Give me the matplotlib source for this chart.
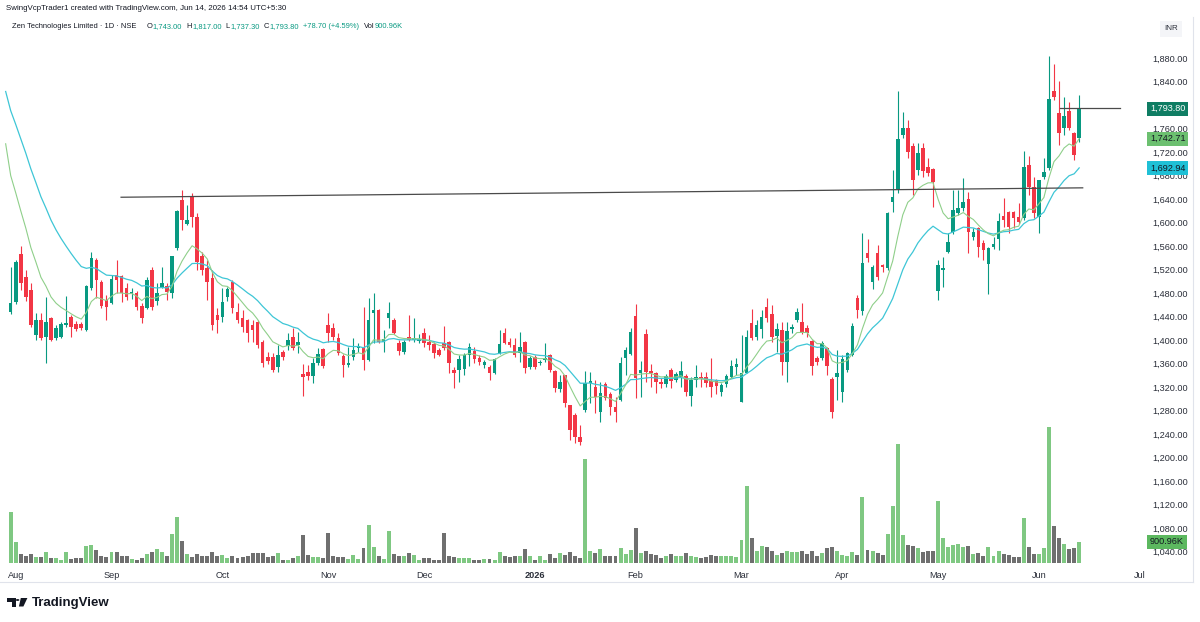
import matplotlib
matplotlib.use("Agg")
import matplotlib.pyplot as plt
import matplotlib.transforms as mtrans
from matplotlib.patches import Polygon, Circle
import numpy as np

# ---------------- data ----------------
opens = [
    1448, 1464, 1546, 1507, 1485, 1408, 1434, 1405, 1437, 1403,
    1405, 1425, 1439, 1427, 1427, 1417, 1488, 1536, 1499, 1468,
    1463, 1511, 1509, 1489, 1478, 1480, 1458, 1454, 1519, 1466,
    1490, 1492, 1480, 1557, 1638, 1597, 1645, 1609, 1543, 1522,
    1505, 1442, 1439, 1473, 1499, 1448, 1437, 1434, 1425, 1431,
    1397, 1371, 1371, 1354, 1380, 1390, 1405, 1392, 1342, 1346,
    1339, 1361, 1385, 1425, 1420, 1403, 1373, 1357, 1371, 1386,
    1388, 1366, 1446, 1451, 1397, 1437, 1434, 1395, 1380, 1405,
    1400, 1398, 1412, 1397, 1393, 1383, 1395, 1397, 1349, 1349,
    1351, 1374, 1381, 1369, 1357, 1354, 1344, 1378, 1412, 1397,
    1391, 1378, 1397, 1354, 1371, 1361, 1366, 1374, 1347, 1317,
    1340, 1289, 1272, 1235, 1281, 1327, 1320, 1278, 1325, 1308,
    1286, 1298, 1369, 1376, 1441, 1344, 1410, 1347, 1344, 1329,
    1325, 1349, 1332, 1337, 1339, 1305, 1332, 1337, 1337, 1330,
    1332, 1312, 1325, 1337, 1354, 1294, 1344, 1429, 1405, 1419,
    1456, 1444, 1407, 1417, 1363, 1419, 1434, 1431, 1420, 1398,
    1369, 1369, 1386, 1334, 1337, 1312, 1349, 1374, 1471, 1449,
    1548, 1499, 1548, 1527, 1523, 1635, 1657, 1749, 1761, 1730,
    1689, 1727, 1694, 1691, 1483, 1520, 1550, 1584, 1616, 1625,
    1640, 1575, 1590, 1565, 1529, 1558, 1572, 1611, 1618, 1618,
    1609, 1608, 1698, 1660, 1609, 1677, 1693, 1823, 1786, 1761,
    1790, 1752, 1743.00]
highs = [
    1524, 1537, 1560, 1519, 1497, 1446, 1446, 1473, 1440, 1425,
    1430, 1475, 1442, 1432, 1430, 1493, 1550, 1539, 1502, 1476,
    1511, 1536, 1511, 1497, 1488, 1484, 1463, 1507, 1524, 1497,
    1524, 1497, 1543, 1622, 1655, 1630, 1650, 1616, 1550, 1536,
    1519, 1454, 1488, 1490, 1502, 1463, 1451, 1436, 1434, 1434,
    1400, 1380, 1378, 1392, 1383, 1412, 1420, 1414, 1359, 1357,
    1369, 1386, 1386, 1446, 1429, 1412, 1376, 1388, 1403, 1395,
    1456, 1471, 1480, 1453, 1417, 1465, 1437, 1400, 1400, 1443,
    1437, 1410, 1420, 1409, 1397, 1386, 1424, 1399, 1354, 1374,
    1378, 1395, 1388, 1374, 1366, 1358, 1370, 1417, 1420, 1403,
    1403, 1414, 1399, 1372, 1374, 1366, 1395, 1376, 1349, 1340,
    1341, 1290, 1276, 1255, 1347, 1346, 1332, 1329, 1329, 1312,
    1303, 1371, 1388, 1420, 1461, 1364, 1419, 1359, 1346, 1335,
    1342, 1352, 1345, 1364, 1342, 1337, 1357, 1345, 1345, 1369,
    1334, 1327, 1342, 1366, 1369, 1408, 1417, 1453, 1434, 1451,
    1471, 1460, 1429, 1431, 1431, 1428, 1454, 1463, 1425, 1400,
    1372, 1398, 1388, 1337, 1383, 1374, 1380, 1429, 1477, 1582,
    1572, 1528, 1562, 1530, 1618, 1689, 1824, 1788, 1774, 1735,
    1735, 1735, 1710, 1693, 1536, 1541, 1582, 1655, 1655, 1676,
    1652, 1590, 1592, 1570, 1558, 1575, 1616, 1642, 1620, 1620,
    1633, 1722, 1713, 1677, 1672, 1710, 1884, 1870, 1841, 1814,
    1805, 1754, 1817.00]
lows = [
    1445, 1462, 1485, 1466, 1422, 1400, 1400, 1361, 1398, 1400,
    1403, 1422, 1405, 1415, 1417, 1415, 1485, 1471, 1454, 1434,
    1461, 1480, 1465, 1468, 1470, 1451, 1429, 1452, 1451, 1460,
    1488, 1468, 1471, 1553, 1587, 1595, 1592, 1519, 1511, 1468,
    1417, 1412, 1431, 1466, 1446, 1429, 1414, 1397, 1397, 1386,
    1354, 1359, 1346, 1346, 1366, 1383, 1383, 1378, 1305, 1332,
    1327, 1357, 1352, 1397, 1400, 1375, 1337, 1354, 1366, 1380,
    1349, 1364, 1395, 1395, 1380, 1420, 1410, 1375, 1376, 1398,
    1397, 1395, 1388, 1383, 1369, 1372, 1383, 1344, 1318, 1329,
    1340, 1356, 1361, 1357, 1352, 1332, 1342, 1376, 1393, 1388,
    1371, 1363, 1344, 1350, 1350, 1358, 1362, 1346, 1312, 1312,
    1286, 1230, 1225, 1221, 1278, 1293, 1276, 1260, 1298, 1272,
    1260, 1296, 1340, 1374, 1301, 1303, 1329, 1320, 1310, 1318,
    1320, 1318, 1328, 1320, 1305, 1288, 1320, 1320, 1320, 1303,
    1308, 1305, 1320, 1335, 1340, 1294, 1344, 1400, 1400, 1403,
    1431, 1397, 1380, 1340, 1329, 1412, 1430, 1410, 1405, 1340,
    1358, 1366, 1340, 1267, 1298, 1295, 1346, 1372, 1437, 1443,
    1533, 1487, 1502, 1515, 1520, 1618, 1650, 1744, 1710, 1647,
    1681, 1677, 1680, 1626, 1468, 1490, 1548, 1580, 1612, 1620,
    1548, 1570, 1541, 1536, 1478, 1555, 1553, 1592, 1582, 1590,
    1598, 1605, 1647, 1608, 1582, 1674, 1690, 1808, 1732, 1749,
    1757, 1706, 1737.30]
closes = [
    1463, 1533, 1497, 1473, 1425, 1434, 1403, 1431, 1400, 1420,
    1427, 1429, 1422, 1419, 1420, 1492, 1540, 1502, 1458, 1456,
    1504, 1502, 1480, 1473, 1482, 1456, 1437, 1502, 1456, 1480,
    1497, 1482, 1543, 1620, 1604, 1604, 1609, 1533, 1519, 1499,
    1425, 1434, 1465, 1487, 1454, 1434, 1422, 1412, 1417, 1391,
    1361, 1364, 1349, 1375, 1371, 1400, 1386, 1397, 1337, 1339,
    1361, 1376, 1356, 1412, 1405, 1378, 1357, 1361, 1383, 1390,
    1366, 1434, 1451, 1397, 1402, 1446, 1412, 1381, 1397, 1400,
    1403, 1402, 1395, 1392, 1378, 1375, 1386, 1361, 1344, 1368,
    1374, 1388, 1368, 1363, 1363, 1344, 1368, 1393, 1395, 1392,
    1374, 1388, 1352, 1369, 1354, 1363, 1369, 1349, 1318, 1329,
    1293, 1247, 1235, 1226, 1327, 1330, 1303, 1310, 1301, 1286,
    1277, 1361, 1383, 1414, 1335, 1349, 1346, 1344, 1329, 1325,
    1339, 1330, 1342, 1347, 1312, 1332, 1337, 1334, 1327, 1320,
    1322, 1324, 1339, 1356, 1359, 1344, 1405, 1403, 1425, 1439,
    1437, 1405, 1419, 1363, 1415, 1422, 1448, 1414, 1412, 1356,
    1363, 1395, 1356, 1277, 1344, 1368, 1378, 1424, 1451, 1531,
    1540, 1524, 1507, 1524, 1616, 1643, 1742, 1761, 1720, 1672,
    1718, 1688, 1684, 1669, 1528, 1522, 1567, 1621, 1625, 1635,
    1584, 1584, 1558, 1553, 1556, 1563, 1603, 1604, 1592, 1608,
    1601, 1694, 1660, 1616, 1672, 1686, 1810, 1814, 1752, 1781,
    1761, 1715, 1793.80]
volume_k = [
    2174, 887, 400, 286, 386, 243, 243, 472, 215, 200,
    114, 472, 186, 200, 200, 744, 787, 543, 286, 272,
    486, 458, 286, 286, 186, 143, 229, 372, 458, 601,
    458, 286, 1258, 1973, 930, 400, 257, 372, 286, 315,
    472, 315, 343, 229, 315, 200, 257, 315, 429, 429,
    429, 272, 286, 429, 114, 143, 229, 286, 1201, 343,
    272, 257, 215, 1273, 286, 257, 257, 172, 358, 172,
    658, 1645, 686, 315, 172, 1387, 386, 286, 315, 429,
    329, 143, 200, 229, 143, 114, 1287, 315, 257, 229,
    215, 229, 114, 143, 186, 186, 143, 458, 315, 243,
    286, 300, 601, 315, 114, 315, 114, 372, 229, 429,
    358, 458, 315, 200, 4462, 501, 429, 586, 286, 286,
    315, 629, 386, 572, 1502, 415, 501, 386, 358, 200,
    315, 386, 315, 315, 415, 315, 243, 200, 243, 343,
    315, 286, 315, 315, 272, 1001, 3318, 1073, 529, 715,
    672, 529, 358, 415, 529, 458, 458, 529, 386, 501,
    315, 429, 629, 672, 529, 343, 286, 458, 343, 2817,
    558, 529, 429, 343, 1244, 2460, 5105, 1201, 787, 744,
    629, 458, 529, 501, 2646, 1073, 672, 787, 815, 701,
    744, 386, 429, 286, 672, 315, 529, 400, 343, 272,
    272, 1931, 672, 386, 386, 629, 5820, 1573, 1058, 815,
    601, 629, 900.96]

month_labels = ["Aug", "Sep", "Oct", "Nov", "Dec", "2026",
                "Feb", "Mar", "Apr", "May", "Jun", "Jul"]
month_bar_index = [1, 20, 42, 63, 82, 104, 124, 145, 165, 184, 204, 224]
price_ticks = list(range(1040, 1881, 40))

ema_fast_len, ema_slow_len = 9, 21
ema_fast_seed, ema_slow_seed = 1734, 1823      # values just before the first bar

support_line_bars = [21.9, 212.7]
support_line_prices = [1643, 1659]
close_line_bars = [208.2, 220.0]
close_line_prices = [1795, 1795]

title_line = "SwingVcpTrader1 created with TradingView.com, Jun 14, 2026 14:54 UTC+5:30"
legend_parts = [("Zen Technologies Limited · 1D · NSE", "dark"),
                ("O", "dark"), ("1,743.00", "green"),
                ("H", "dark"), ("1,817.00", "green"),
                ("L", "dark"), ("1,737.30", "green"),
                ("C", "dark"), ("1,793.80", "green"),
                ("+78.70 (+4.59%)", "green"),
                ("Vol", "dark"), ("900.96K", "green")]
# gap (px) placed after each legend piece
legend_gaps_px = [10, 0.6, 4, 0.6, 4, 0.6, 4, 0.6, 4, 5, 0.6, 0]

# ---------------- styling ----------------
plt.rcParams['font.family'] = ['Liberation Sans', 'DejaVu Sans']
UP = "#089981"
DOWN = "#F23645"
VOL_UP = "#7fc882"
VOL_DOWN = "#6f6f6f"
EMA_FAST_C = "#8fcf8a"
EMA_SLOW_C = "#3ec6d6"
DARK = "#131722"
AXIS_TXT = "#2a2e39"

W, H = 1200, 622
fig = plt.figure(figsize=(W / 100, H / 100), dpi=100)
fig.patch.set_facecolor("white")

def fx(px):
    return px / W

def fy(py):
    return 1 - py / H

PANE_L, PANE_R, PANE_T, PANE_B = 0, 1143, 17, 565
BAR_X0, BAR_DX = 10.7, 5.04
rect = [fx(PANE_L), fy(PANE_B), fx(PANE_R) - fx(PANE_L), fy(PANE_T) - fy(PANE_B)]

axv = fig.add_axes(rect)
ax = fig.add_axes(rect, sharex=axv)
ax.set_zorder(2)
axv.set_zorder(1)
ax.patch.set_alpha(0)

n = len(closes)
x = np.arange(n)
o = np.array(opens, float)
h = np.array(highs, float)
l = np.array(lows, float)
c = np.array(closes, float)
up = c >= o

ax.set_xlim((PANE_L - BAR_X0) / BAR_DX, (PANE_R - BAR_X0) / BAR_DX)
PX_PER_40 = 23.5
ax.set_ylim(1880 - (PANE_B - 58) * 40 / PX_PER_40, 1880 + (58 - PANE_T) * 40 / PX_PER_40)

# volume
vol = np.array(volume_k, float)
k_per_px = 900.96 / 21.0
axv.set_ylim(-2 * k_per_px, (PANE_B - PANE_T - 2) * k_per_px)
axv.bar(x, vol, width=0.78, color=np.where(up, VOL_UP, VOL_DOWN), linewidth=0)
axv.axis("off")

# candles
colors = np.where(up, UP, DOWN)
ax.vlines(x, l, h, colors=colors, linewidth=0.8, zorder=3)
body_low = np.minimum(o, c)
body_h = np.maximum(np.abs(c - o), 1.4)
ax.bar(x, body_h, bottom=body_low, width=0.7, color=colors, linewidth=0, zorder=4)

# moving averages
def ema(values, length, seed):
    a = 2.0 / (length + 1)
    out = [seed]
    for v in values:
        out.append(out[-1] + a * (v - out[-1]))
    return np.array(out)

ema_fast = ema(c, ema_fast_len, ema_fast_seed)
ema_slow = ema(c, ema_slow_len, ema_slow_seed)
xe = np.arange(-1, n)
ax.plot(xe, ema_slow, color=EMA_SLOW_C, lw=0.9, zorder=5)
ax.plot(xe, ema_fast, color=EMA_FAST_C, lw=0.8, zorder=5)

# drawn lines
ax.plot(support_line_bars, support_line_prices, color="#4a4a4a", lw=0.9, zorder=6)
ax.plot(close_line_bars, close_line_prices, color="#4a4a4a", lw=0.9, zorder=6)

# axes decoration
for a_ in (ax, axv):
    for s in a_.spines.values():
        s.set_visible(False)
ax.yaxis.tick_right()
ax.set_yticks(price_ticks)
ax.set_yticklabels([f"{v:,.2f}" for v in price_ticks])
ax.tick_params(axis="y", length=0, pad=6.5, labelsize=6.6, labelcolor=AXIS_TXT)
ax.set_xticks(month_bar_index)
ax.set_xticklabels(month_labels)
ax.tick_params(axis="x", length=0, pad=4.5, labelsize=6.6, labelcolor=AXIS_TXT)
for t in ax.get_xticklabels():
    if t.get_text() == "2026":
        t.set_fontweight("bold")
ax.grid(False)

# price labels on the right scale
bt = mtrans.blended_transform_factory(fig.transFigure, ax.transData)
def price_box(val, bg, fg):
    ax.text(fx(1150), val, f"{val:,.2f}", transform=bt, ha="left", va="center",
            fontsize=6.6, color=fg, clip_on=False, zorder=20,
            bbox=dict(boxstyle="square,pad=0.28", fc=bg, ec="none"))

price_box(closes[-1], "#0f7d63", "white")
price_box(round(float(ema_fast[-1]), 2), "#6cc070", DARK)
price_box(round(float(ema_slow[-1]), 2), "#1fc0d6", DARK)

btv = mtrans.blended_transform_factory(fig.transFigure, axv.transData)
axv.text(fx(1150), volume_k[-1], f"{volume_k[-1]:.2f}K", transform=btv, ha="left",
         va="center", fontsize=6.6, color=DARK, clip_on=False, zorder=20,
         bbox=dict(boxstyle="square,pad=0.28", fc="#5cb85f", ec="none"))

fig.text(fx(1171), fy(29), "INR", ha="center", va="center", fontsize=5.8, color=AXIS_TXT,
         bbox=dict(boxstyle="square,pad=0.5", fc="#f4f5f8", ec="none"))

# frame lines
fig.add_artist(plt.Line2D([0, fx(1193)], [fy(582), fy(582)], color="#e0e3eb", lw=0.8))
fig.add_artist(plt.Line2D([fx(1193), fx(1193)], [fy(17), fy(582)], color="#e0e3eb", lw=0.8))

# header texts
renderer = fig.canvas.get_renderer()

def fitted_text(x_px, y_px, s, width_px, **kw):
    t = fig.text(fx(x_px), fy(y_px), s, ha="left", va="center", fontsize=10, **kw)
    w = t.get_window_extent(renderer).width
    t.set_fontsize(10 * width_px / w)
    return t

fitted_text(6, 8, title_line, 279, color=DARK)

# legend line: laid out piece by piece, scaled to span x = 12 .. 403 px
LEG_X0, LEG_X1, LEG_Y = 12, 403, 27
tmp = []
for s, col in legend_parts:
    t = fig.text(0, 0, s, fontsize=10)
    tmp.append(t.get_window_extent(renderer).width)
    t.remove()
scale = (LEG_X1 - LEG_X0 - sum(legend_gaps_px)) / sum(tmp)
fs = 10 * scale
xp = LEG_X0
for (s, col), w10, gap in zip(legend_parts, tmp, legend_gaps_px):
    fig.text(fx(xp), fy(LEG_Y), s, ha="left", va="center", fontsize=fs,
             color=DARK if col == "dark" else UP)
    xp += w10 * scale + gap

# TradingView logo
def pts(seq):
    return [(fx(a), fy(b)) for a, b in seq]

fig.add_artist(Polygon(pts([(7, 598), (15.5, 598), (15.5, 606.5), (11.8, 606.5),
                            (11.8, 601.6), (7, 601.6)]), closed=True, fc="#131722",
                       ec="none", transform=fig.transFigure))
fig.add_artist(Circle((fx(17.6), fy(600)), fx(1.8), fc="#131722", ec="none",
                      transform=fig.transFigure))
fig.add_artist(Polygon(pts([(20.8, 598), (27.4, 598), (23.4, 606.5), (18.9, 606.5)]),
                       closed=True, fc="#131722", ec="none", transform=fig.transFigure))
fitted_text(32, 603, "TradingView", 78, color="#131722", fontweight="bold")

fig.savefig("out.png", dpi=100, facecolor="white")
